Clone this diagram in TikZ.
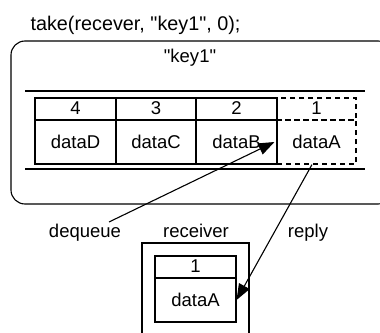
\documentclass[tikz,border=0pt]{standalone}
\usepackage{fontspec}
\setmainfont{Liberation Sans}
\usetikzlibrary{arrows.meta}
\newcommand{\qt}{\textquotedbl}
\begin{document}
\begin{tikzpicture}[x=1pt,y=-1pt,line width=1.1pt,
  txt/.style={inner sep=0pt,font=\fontsize{18.5}{22}\selectfont},
  numcell/.style={txt,draw,minimum height=22pt,text height=14.5pt,text depth=3.5pt},
  datacell/.style={txt,draw,minimum height=44pt,text height=14pt,text depth=2pt},
  gone/.style={dash pattern=on 5pt off 4pt},
  arr/.style={-{Triangle[length=16pt,width=12pt]}}]
\useasboundingbox (0,0) rectangle (380,332);
\clip (0,0) rectangle (380,332);

% call
\node[txt,anchor=base west,font=\fontsize{19.8}{23}\selectfont] (call) at (30,30) {take(recever, \qt key1\qt, 0);};

% key container
\draw[rounded corners=14pt] (11,41) rectangle (392,204);
\node[txt,anchor=base] (key) at (190,62) {\qt key1\qt};
\draw (25,91) -- (365,91);
\draw (25,169) -- (365,169);

% queue cells
\node[numcell,minimum width=81pt] (n4) at (75.5,109) {4};
\node[numcell,minimum width=80pt] (n3) at (156,109) {3};
\node[numcell,minimum width=81pt] (n2) at (236.5,109) {2};
\node[numcell,minimum width=79pt,gone] (n1) at (316.5,109) {1};
\node[datacell,minimum width=81pt] (d4) at (75.5,142) {dataD};
\node[datacell,minimum width=80pt] (d3) at (156,142) {dataC};
\node[datacell,minimum width=81pt] (d2) at (236.5,142) {dataB};
\node[datacell,minimum width=79pt,gone] (d1) at (316.5,142) {dataA};

% receiver
\draw (142,340) -- (142,243) -- (249,243) -- (249,340);
\node[numcell,minimum width=81pt] (rn) at (195.5,267) {1};
\node[datacell,minimum width=81pt] (rd) at (195.5,300) {dataA};

% labels
\node[txt,anchor=base] (ldq) at (85,237) {dequeue};
\node[txt,anchor=base] (lrc) at (196,237) {receiver};
\node[txt,anchor=base] (lrp) at (308,237) {reply};

% arrows
\coordinate (dqstart) at (109,222);
\draw[arr] (dqstart) -- ([xshift=-2pt]d1.west);
\draw[arr] ([xshift=-4.5pt]d1.south) -- (rd.east);
\end{tikzpicture}
\end{document}
